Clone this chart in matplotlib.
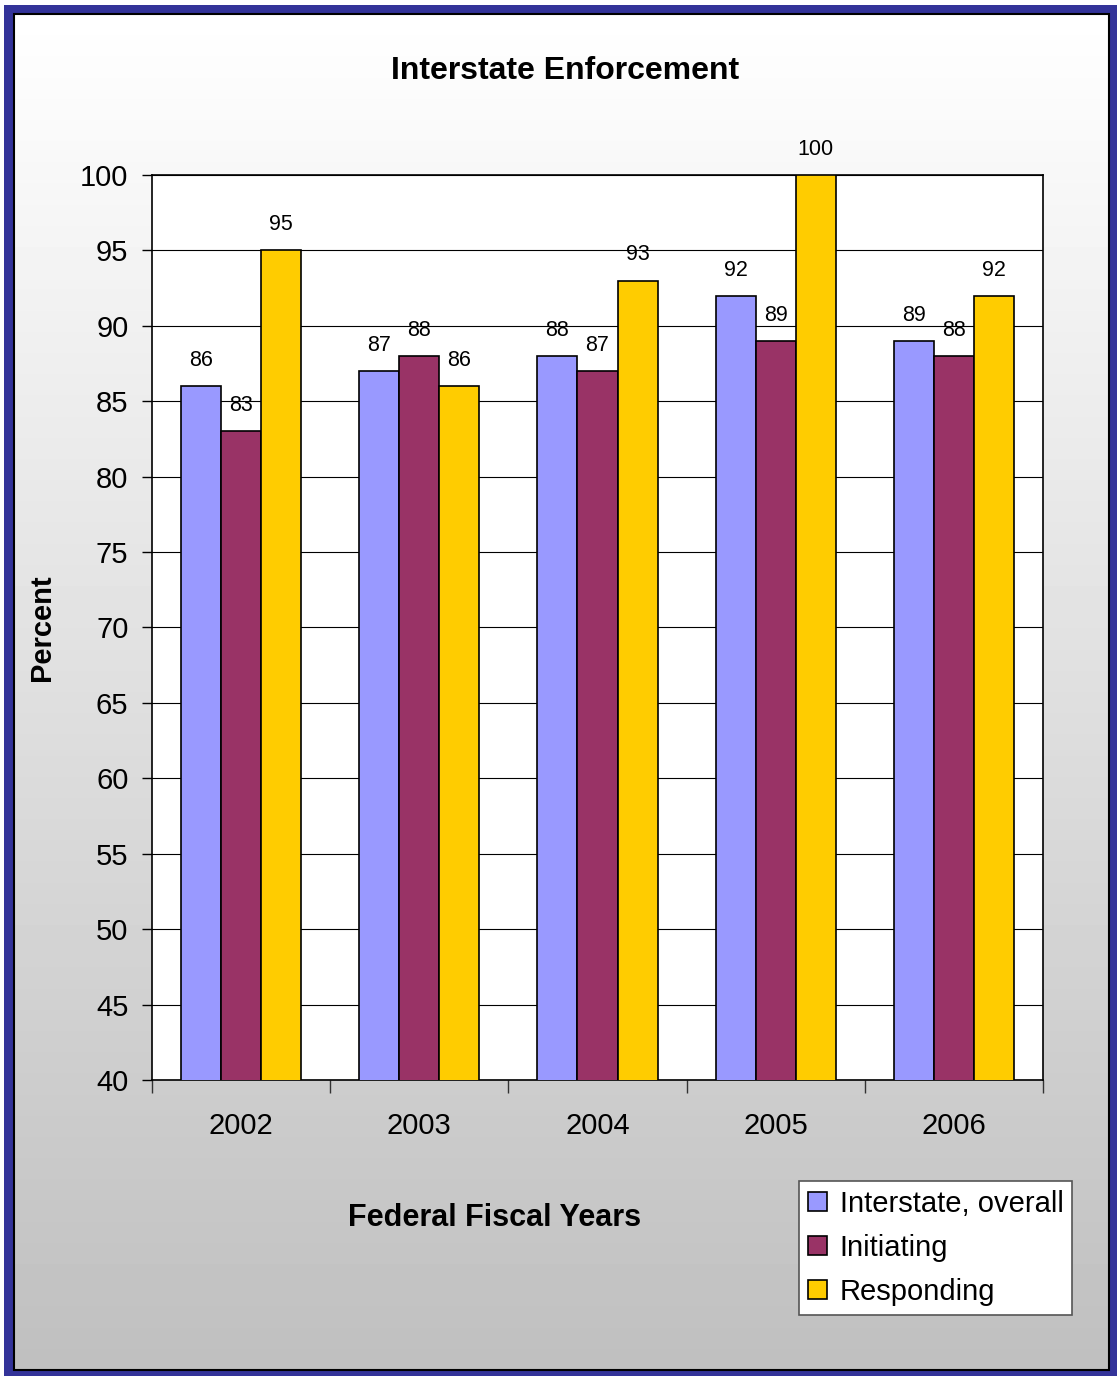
import matplotlib

matplotlib.use("Agg")
import matplotlib.pyplot as plt
import numpy as np
from matplotlib.patches import Rectangle

plt.rcParams["font.family"] = ["Liberation Sans", "DejaVu Sans"]

years = ["2002", "2003", "2004", "2005", "2006"]
interstate = [86, 87, 88, 92, 89]
initiating = [83, 88, 87, 89, 88]
responding = [95, 86, 93, 100, 92]

series = [
    ("Interstate, overall", interstate, "#9999FF"),
    ("Initiating", initiating, "#993366"),
    ("Responding", responding, "#FFCC00"),
]

W, H = 1117, 1376
fig = plt.figure(figsize=(W / 100, H / 100), dpi=100)

# background: blue frame + white-to-gray gradient panel
bg = fig.add_axes([0, 0, 1, 1])
bg.set_xlim(0, W)
bg.set_ylim(H, 0)
bg.axis("off")
bg.add_patch(Rectangle((4, 5), W - 4, H - 5, facecolor="#333399", edgecolor="none"))
grad = np.linspace(1.0, 0.75, 256).reshape(-1, 1)
bg.imshow(grad, cmap="gray", vmin=0, vmax=1, aspect="auto",
          extent=(14, 1109, 1370, 14), zorder=1)
bg.add_patch(Rectangle((14, 14), 1095, 1356, facecolor="none",
                       edgecolor="black", linewidth=1.5, zorder=2))

ax = fig.add_axes([152 / W, 1 - 1080 / H, (1043 - 152) / W, (1080 - 175) / H])
ax.set_facecolor("white")

x = np.arange(len(years))
width = 0.225
for i, (label, vals, color) in enumerate(series):
    pos = x + (i - 1) * width
    ax.bar(pos, vals, width, bottom=0, color=color, edgecolor="black",
           linewidth=1.2, label=label, zorder=3)
    for p, v in zip(pos, vals):
        ax.text(p, v + 1.0, f"{v}", ha="center", va="bottom", fontsize=15.5,
                zorder=4, clip_on=False)

ax.set_ylim(40, 100)
ax.set_xlim(-0.5, len(years) - 0.5)
ax.set_yticks(np.arange(40, 101, 5))
ax.yaxis.grid(True, color="black", linewidth=0.8, zorder=0)
ax.set_axisbelow(True)
ax.tick_params(axis="y", labelsize=21, length=7, width=1, pad=10)

ax.set_xticks(x)
ax.set_xticklabels(years, fontsize=21)
ax.tick_params(axis="x", length=0, pad=23)
ax.set_xticks(np.arange(-0.5, len(years)), minor=True)
ax.tick_params(axis="x", which="minor", length=9, width=1, color="#333333")

for s in ax.spines.values():
    s.set_linewidth(1.2)

fig.text(565 / W, 1 - 71 / H, "Interstate Enforcement", ha="center", va="center",
         fontsize=23, fontweight="bold")
fig.text(42 / W, 1 - 628 / H, "Percent", ha="center", va="center", rotation=90,
         fontsize=21, fontweight="bold")
fig.text(495 / W, 1 - 1218 / H, "Federal Fiscal Years", ha="center", va="center",
         fontsize=22, fontweight="bold")

leg = fig.legend(loc="upper left", bbox_to_anchor=(799 / W, 1 - 1181 / H),
                 fontsize=21, frameon=True, fancybox=False, edgecolor="#555555",
                 framealpha=1, facecolor="white",
                 handlelength=0.65, handleheight=0.65, handletextpad=0.45,
                 labelspacing=0.55, borderpad=0.3, borderaxespad=0)
leg.get_frame().set_linewidth(1.2)

fig.savefig("out.png", dpi=100)
